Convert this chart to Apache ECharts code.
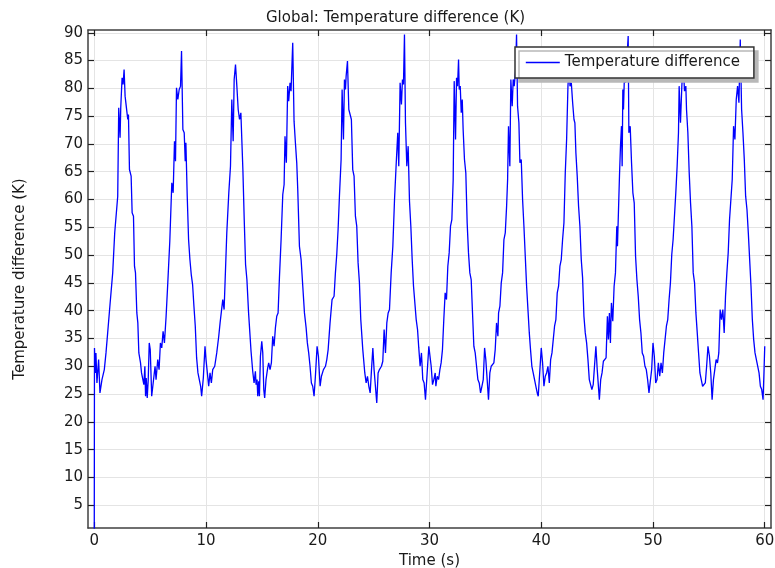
<!DOCTYPE html>
<html>
<head>
<meta charset="utf-8">
<script src="https://cdn.jsdelivr.net/npm/echarts@6/dist/echarts.min.js"></script>
<style>
html,body{margin:0;padding:0;background:#fff;}
#chart{width:775px;height:568px;}
</style>
</head>
<body>
<div id="chart"></div>
<script>
// Time (s), temperature difference (K), per 10 s window
var seg1 = [[0,0],[0.02,33.3],[0.09,28.8],[0.15,32.4],[0.24,27.0],[0.39,31.2],[0.51,25.2],[0.69,27.6],[0.9,29.4],[1.05,32.4],[1.2,36.0],[1.41,41.1],[1.53,40.8],[1.65,46.8],[1.83,54.0],[1.95,54.3],[2.1,60.6],[2.19,76.5],[2.31,71.1],[2.37,76.5],[2.49,81.9],[2.58,80.7],[2.67,83.4],[2.76,78.6],[2.88,76.5],[3.0,74.4],[3.06,75.3],[3.15,65.4],[3.3,64.2],[3.39,57.6],[3.51,57.0],[3.6,48.0],[3.69,46.8],[3.81,39.6],[3.9,37.8],[3.99,32.4],[4.14,30.6],[4.23,28.8],[4.35,29.1],[4.44,26.7],[4.53,30.0],[4.59,24.6],[4.65,27.9],[4.74,24.3],[4.83,27.6],[4.92,34.2],[5.01,33.0],[5.14,24.6],[5.26,24.9],[5.44,30.0],[5.53,27.6],[5.68,31.2],[5.8,29.4],[5.92,34.2],[6.04,33.3],[6.16,36.3],[6.28,34.2],[6.43,39.0],[6.58,45.0],[6.76,52.5],[6.94,63.0],[7.06,61.2],[7.18,70.5],[7.27,66.9],[7.36,80.1],[7.48,78.0],[7.6,79.8],[7.72,80.4],[7.81,86.7],[7.93,72.6],[8.05,72.0],[8.14,66.9],[8.2,70.2],[8.32,60.6],[8.44,52.8],[8.56,49.2],[8.68,46.5],[8.8,44.7],[8.92,40.8],[9.04,37.2],[9.16,31.5],[9.28,28.8],[9.4,27.6],[9.52,26.4],[9.61,24.6],[9.76,27.9],[9.91,33.6]];
var seg2 = [[10.0,31.2],[10.12,28.8],[10.24,26.4],[10.36,28.8],[10.48,27.0],[10.6,29.4],[10.78,30.0],[10.96,32.4],[11.14,35.4],[11.26,37.8],[11.5,42.0],[11.62,40.2],[11.74,47.1],[11.86,54.0],[12.04,61.2],[12.19,66.0],[12.31,78.0],[12.43,70.5],[12.52,81.6],[12.64,84.3],[12.76,80.4],[12.88,76.2],[13.0,74.4],[13.12,75.6],[13.3,65.4],[13.42,56.4],[13.54,48.3],[13.66,45.6],[13.81,39.6],[14.03,32.7],[14.18,29.1],[14.3,27.0],[14.42,29.1],[14.48,26.7],[14.57,27.6],[14.63,24.6],[14.72,27.3],[14.78,24.6],[14.87,31.8],[14.99,34.5],[15.08,32.4],[15.17,25.8],[15.25,24.3],[15.37,27.6],[15.52,29.7],[15.61,30.6],[15.73,29.4],[15.85,30.6],[15.97,35.4],[16.09,33.6],[16.21,36.9],[16.33,39.0],[16.45,39.6],[16.57,45.9],[16.72,52.8],[16.87,60.9],[16.99,62.7],[17.07,71.4],[17.19,66.6],[17.31,80.4],[17.4,77.7],[17.52,81.0],[17.61,79.5],[17.76,88.2],[17.88,74.1],[18.0,70.2],[18.12,66.6],[18.21,61.8],[18.36,51.6],[18.51,49.2],[18.66,44.4],[18.81,39.6],[18.96,36.9],[19.07,34.2],[19.19,32.4],[19.31,30.0],[19.43,27.0],[19.55,26.4],[19.67,24.6],[19.79,28.2],[19.94,33.6]];
var seg3 = [[20.06,31.8],[20.21,26.4],[20.33,28.2],[20.51,29.4],[20.69,30.0],[20.81,31.2],[20.93,33.0],[21.1,37.8],[21.28,42.0],[21.46,42.6],[21.58,46.8],[21.7,50.1],[21.82,54.6],[21.94,60.6],[22.09,67.2],[22.18,79.8],[22.3,70.8],[22.39,81.6],[22.48,79.8],[22.54,82.2],[22.66,84.9],[22.78,76.2],[22.9,76.5],[23.01,74.4],[23.13,65.4],[23.25,64.2],[23.37,57.0],[23.49,55.2],[23.61,48.6],[23.73,45.0],[23.85,38.4],[24.03,33.0],[24.21,28.8],[24.33,27.0],[24.45,28.2],[24.57,26.4],[24.69,25.2],[24.81,29.4],[24.93,33.3],[25.04,29.4],[25.16,26.4],[25.28,23.4],[25.4,28.8],[25.52,29.4],[25.7,30.0],[25.82,30.9],[25.94,36.6],[26.06,32.4],[26.18,37.8],[26.3,39.6],[26.42,40.2],[26.57,46.8],[26.72,51.6],[26.87,60.0],[27.01,66.0],[27.16,72.0],[27.25,66.0],[27.37,81.0],[27.49,77.1],[27.58,81.6],[27.67,80.7],[27.76,89.7],[27.85,73.8],[27.97,66.0],[28.09,69.6],[28.21,59.7],[28.33,55.2],[28.45,49.2],[28.57,44.4],[28.69,44.4],[28.81,38.4],[28.93,36.6],[29.04,33.3],[29.16,30.0],[29.28,32.4],[29.4,27.6],[29.52,27.0],[29.64,24.0],[29.79,28.8],[29.94,33.6]];
var seg4 = [[30.15,30.0],[30.27,26.7],[30.39,27.6],[30.51,28.8],[30.57,26.4],[30.69,28.2],[30.81,27.6],[30.93,29.4],[31.04,30.6],[31.16,33.0],[31.28,38.4],[31.4,43.2],[31.52,42.0],[31.64,48.0],[31.76,50.4],[31.88,55.2],[32.0,56.4],[32.12,63.6],[32.21,81.3],[32.33,70.8],[32.42,81.9],[32.51,80.4],[32.6,85.2],[32.66,79.8],[32.75,80.4],[32.84,75.6],[32.93,78.0],[33.01,72.6],[33.13,67.2],[33.25,64.8],[33.37,55.8],[33.49,50.4],[33.61,46.8],[33.73,45.6],[33.85,39.6],[33.97,33.6],[34.09,32.4],[34.21,30.0],[34.33,27.6],[34.45,27.0],[34.57,25.2],[34.69,26.4],[34.81,27.6],[34.93,33.3],[35.04,31.2],[35.16,27.6],[35.28,24.0],[35.4,28.8],[35.52,30.0],[35.64,30.3],[35.76,30.6],[35.88,33.0],[36.0,37.8],[36.12,35.4],[36.18,39.6],[36.3,40.8],[36.42,45.0],[36.54,46.8],[36.66,52.8],[36.78,54.0],[36.9,58.8],[36.99,63.6],[37.07,73.2],[37.19,66.0],[37.28,81.6],[37.4,76.8],[37.49,81.6],[37.58,80.4],[37.7,83.1],[37.79,89.7],[37.88,76.8],[38.0,73.8],[38.09,66.6],[38.21,67.2],[38.33,60.0],[38.45,55.2],[38.57,49.8],[38.69,44.4],[38.81,40.2],[38.93,36.0],[39.04,33.0],[39.16,30.0],[39.28,28.8],[39.4,27.6],[39.52,26.4],[39.64,25.2],[39.73,24.6],[39.88,29.4],[40.0,33.3]];
var seg5 = [[40.12,30.6],[40.24,26.4],[40.36,28.2],[40.48,28.8],[40.6,30.0],[40.72,27.0],[40.84,31.2],[40.96,32.4],[41.07,32.7],[41.19,37.2],[41.31,38.4],[41.43,43.2],[41.55,44.4],[41.67,48.0],[41.79,49.2],[41.91,52.8],[42.03,55.8],[42.15,64.8],[42.27,70.8],[42.39,80.4],[42.51,84.6],[42.57,80.4],[42.69,81.0],[42.81,77.4],[42.93,74.4],[43.01,73.8],[43.1,68.4],[43.22,64.2],[43.34,58.8],[43.46,55.2],[43.58,49.2],[43.7,45.9],[43.82,39.0],[43.94,36.0],[44.06,34.2],[44.18,31.2],[44.3,27.6],[44.44,27.3],[44.53,25.8],[44.65,26.7],[44.77,26.4],[44.89,33.6],[45.01,29.4],[45.2,24.0],[45.32,27.6],[45.44,28.8],[45.56,30.9],[45.68,30.6],[45.8,31.5],[45.92,39.0],[46.01,34.8],[46.1,39.6],[46.19,34.2],[46.28,41.4],[46.4,38.1],[46.52,44.4],[46.64,46.8],[46.76,55.2],[46.82,51.6],[46.94,60.0],[47.0,64.2],[47.09,69.6],[47.18,73.2],[47.24,66.0],[47.3,79.8],[47.36,76.2],[47.45,82.8],[47.54,81.0],[47.66,85.2],[47.78,89.4],[47.84,72.0],[47.96,73.2],[48.08,66.6],[48.2,61.2],[48.32,59.4],[48.44,49.8],[48.56,45.6],[48.68,42.6],[48.8,38.4],[48.92,36.0],[49.04,32.4],[49.16,31.8],[49.28,30.0],[49.4,29.4],[49.52,27.6],[49.64,25.2],[49.76,24.9],[49.88,29.4],[50.0,34.2]];
var seg6 = [[50.12,31.8],[50.24,27.0],[50.36,27.6],[50.48,30.6],[50.6,28.2],[50.72,30.6],[50.84,28.8],[50.96,32.4],[51.08,32.4],[51.2,37.2],[51.32,38.4],[51.44,42.0],[51.56,45.0],[51.68,50.1],[51.8,52.8],[51.92,57.0],[52.04,61.2],[52.16,66.0],[52.28,72.0],[52.34,80.4],[52.46,73.8],[52.58,80.4],[52.7,84.6],[52.82,79.5],[52.94,80.4],[53.0,76.2],[53.12,72.0],[53.24,64.8],[53.36,59.4],[53.48,55.2],[53.6,46.8],[53.72,45.0],[53.84,39.6],[53.96,36.0],[54.08,32.4],[54.2,28.8],[54.32,27.6],[54.44,26.4],[54.56,26.4],[54.68,27.0],[54.8,30.0],[54.92,33.6],[55.05,31.8],[55.17,28.8],[55.29,24.0],[55.41,27.6],[55.53,29.4],[55.65,31.2],[55.77,30.6],[55.89,32.4],[56.01,40.2],[56.13,38.4],[56.25,40.2],[56.37,36.0],[56.49,42.6],[56.61,46.8],[56.73,50.4],[56.85,56.4],[56.97,60.0],[57.09,63.6],[57.21,73.2],[57.33,70.8],[57.45,78.0],[57.57,80.4],[57.69,77.4],[57.81,88.8],[57.93,76.2],[58.05,72.0],[58.17,67.2],[58.29,60.6],[58.41,58.2],[58.53,54.0],[58.65,49.2],[58.77,44.4],[58.89,38.4],[59.01,34.8],[59.13,32.4],[59.31,30.6],[59.49,28.8],[59.61,26.4],[59.73,25.8],[59.85,24.0],[59.93,28.8],[60.0,33.6]];

var xTicks = [0, 10, 20, 30, 40, 50, 60];
var yTicks = [5, 10, 15, 20, 25, 30, 35, 40, 45, 50, 55, 60, 65, 70, 75, 80, 85, 90];
var seriesName = 'Temperature difference';
var titleText = 'Global: Temperature difference (K)';
var xName = 'Time (s)';
var yName = 'Temperature difference (K)';

var data = seg1.concat(seg2, seg3, seg4, seg5, seg6);

var FONT = 'DejaVu Sans';
var TXT = '#1a1a1a';
var xMin = -0.56, xMax = 60.56, yMin = 0.9, yMax = 90.5;
var axisLineStyle = {color: '#404040', width: 1.5};
var tickStyle = {color: '#202020', width: 1.2};
var gridStyle = {color: '#e4e4e4', width: 1};

var chart = echarts.init(document.getElementById('chart'), null, {renderer: 'canvas'});
chart.setOption({
  animation: false,
  backgroundColor: '#ffffff',
  title: {
    text: titleText, left: 261, top: 6,
    textStyle: {fontFamily: FONT, fontSize: 15, fontWeight: 'normal', color: TXT}
  },
  grid: {left: 88, right: 4, top: 30, bottom: 40, containLabel: false, outerBoundsMode: 'none'},
  legend: {
    data: [seriesName], left: 515, top: 47,
    orient: 'vertical',
    backgroundColor: '#ffffff', borderColor: '#333333', borderWidth: 1.5, borderRadius: 0,
    padding: [8, 14, 8, 10],
    shadowColor: '#b8b8b8', shadowBlur: 0, shadowOffsetX: 4, shadowOffsetY: 4,
    itemWidth: 34, itemHeight: 14,
    itemStyle: {opacity: 0},
    lineStyle: {color: '#0000ff', width: 1.6},
    textStyle: {fontFamily: FONT, fontSize: 15, color: TXT}
  },
  xAxis: [{
    type: 'value', min: xMin, max: xMax, position: 'bottom',
    name: xName, nameLocation: 'middle', nameGap: 21,
    nameTextStyle: {fontFamily: FONT, fontSize: 15, color: TXT},
    axisLine: {show: true, onZero: false, lineStyle: axisLineStyle},
    axisTick: {show: true, inside: true, length: 6, lineStyle: tickStyle, customValues: xTicks},
    axisLabel: {fontFamily: FONT, fontSize: 15, color: TXT, margin: 6, customValues: xTicks},
    splitLine: {show: true, lineStyle: gridStyle}
  }, {
    type: 'value', min: xMin, max: xMax, position: 'top',
    axisLine: {show: true, onZero: false, lineStyle: axisLineStyle},
    axisTick: {show: true, inside: true, length: 6, lineStyle: tickStyle, customValues: xTicks},
    axisLabel: {show: false, customValues: xTicks},
    splitLine: {show: false}
  }],
  yAxis: [{
    type: 'value', min: yMin, max: yMax, position: 'left',
    name: yName, nameLocation: 'middle', nameGap: 60,
    nameTextStyle: {fontFamily: FONT, fontSize: 15, color: TXT},
    axisLine: {show: true, onZero: false, lineStyle: axisLineStyle},
    axisTick: {show: true, inside: true, length: 6, lineStyle: tickStyle, customValues: yTicks},
    axisLabel: {fontFamily: FONT, fontSize: 15, color: TXT, margin: 5, customValues: yTicks},
    splitLine: {show: true, lineStyle: gridStyle}
  }, {
    type: 'value', min: yMin, max: yMax, position: 'right',
    axisLine: {show: true, onZero: false, lineStyle: axisLineStyle},
    axisTick: {show: true, inside: true, length: 6, lineStyle: tickStyle, customValues: yTicks},
    axisLabel: {show: false, customValues: yTicks},
    splitLine: {show: false}
  }],
  series: [{
    name: seriesName, type: 'line', data: data,
    xAxisIndex: 0, yAxisIndex: 0,
    showSymbol: false, symbol: 'none', smooth: false,
    lineStyle: {color: '#0000ff', width: 1.3},
    itemStyle: {color: '#0000ff'},
    clip: true
  }]
});
</script>
</body>
</html>
